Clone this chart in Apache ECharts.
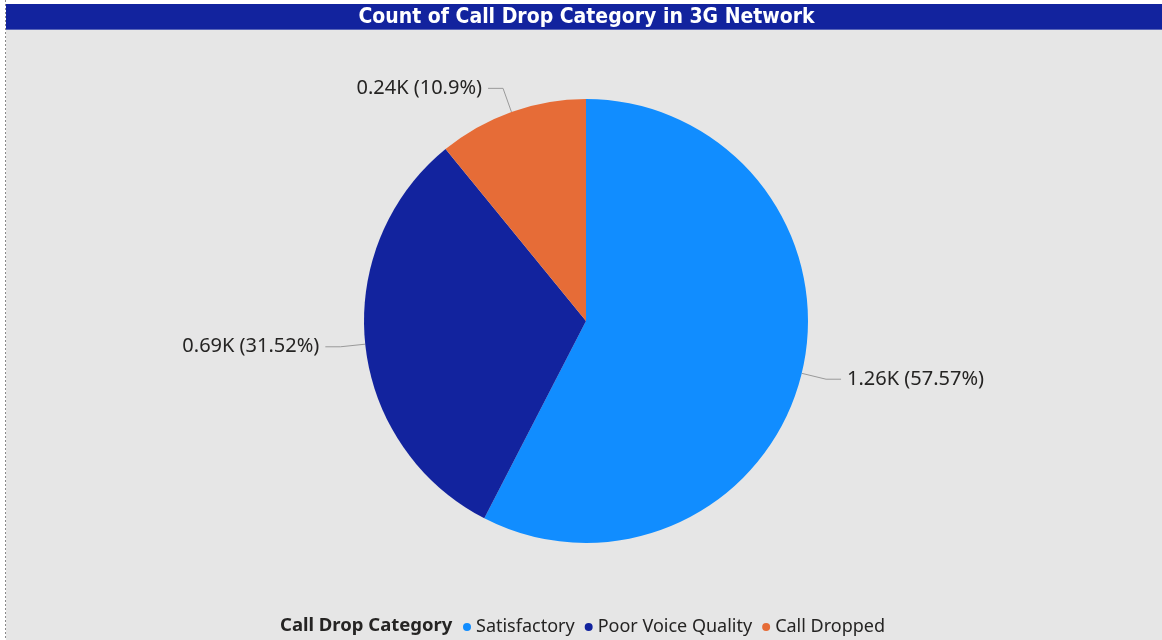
<!DOCTYPE html>
<html>
<head>
<meta charset="utf-8">
<style>
  html, body { margin: 0; padding: 0; background: #ffffff; }
  #chart { width: 1162px; height: 640px; }
</style>
<script src="https://cdn.jsdelivr.net/npm/echarts@6/dist/echarts.min.js"></script>
</head>
<body>
<div id="chart"></div>
<script>
// Call drop categories and their counts (3G network)
const categories = ['Satisfactory', 'Poor Voice Quality', 'Call Dropped'];
const counts = [1262, 691, 239];
const colors = ['#118DFF', '#12239E', '#E66C37'];

const chartTitle = 'Count of Call Drop Category in 3G Network';
const legendTitle = 'Call Drop Category';

const total = counts.reduce((a, b) => a + b, 0);
const fmtK = v => (v / 1000).toFixed(2) + 'K';
const fmtPct = v => String(+((v / total) * 100).toFixed(2)) + '%';

const chart = echarts.init(document.getElementById('chart'), null, { renderer: 'canvas' });

const uiFont = '"Noto Sans", "Open Sans", sans-serif';

chart.setOption({
  animation: false,
  backgroundColor: '#ffffff',
  graphic: [
    // report canvas
    { type: 'rect', z: -10, shape: { x: 6, y: 4, width: 1156, height: 636 }, style: { fill: '#E6E6E6' } },
    // dotted frame edge
    { type: 'line', z: -5, shape: { x1: 5.5, y1: 0, x2: 5.5, y2: 640 }, style: { stroke: '#8a8a8a', lineWidth: 1, lineDash: [2, 2] } },
    // title band
    { type: 'rect', z: -4, shape: { x: 6, y: 4, width: 1156, height: 26 }, style: { fill: '#12239E' } },
    { type: 'rect', z: -4, shape: { x: 6, y: 29, width: 1156, height: 1 }, style: { fill: '#5a66b8' } },
    {
      type: 'text', z: 10, x: 586.5, y: 18,
      style: {
        text: chartTitle, fill: '#ffffff',
        align: 'center', verticalAlign: 'middle',
        font: 'bold 21px "DejaVu Sans Condensed", "Liberation Sans Narrow", sans-serif'
      }
    },
    {
      type: 'text', z: 10, x: 280, y: 626,
      style: {
        text: legendTitle, fill: '#252423',
        verticalAlign: 'middle',
        font: 'bold 18.5px ' + uiFont
      }
    }
  ],
  legend: {
    data: categories,
    left: 458,
    top: 613,
    icon: 'circle',
    itemWidth: 8,
    itemHeight: 8,
    itemGap: 10,
    textStyle: { color: '#252423', fontSize: 18, fontFamily: uiFont }
  },
  series: [{
    type: 'pie',
    center: [586, 321],
    radius: 222,
    startAngle: 90,
    clockwise: true,
    avoidLabelOverlap: false,
    data: categories.map((name, i) => ({
      name, value: counts[i], itemStyle: { color: colors[i] }
    })),
    label: {
      show: true,
      formatter: p => fmtK(p.value) + ' (' + fmtPct(p.value) + ')',
      color: '#252423',
      fontSize: 20,
      fontFamily: uiFont,
      distanceToLabelLine: 6
    },
    labelLine: {
      show: true,
      length: 25,
      length2: 15,
      lineStyle: { color: '#9a9a9a', width: 1 }
    },
    emphasis: { disabled: true }
  }]
});
</script>
</body>
</html>
